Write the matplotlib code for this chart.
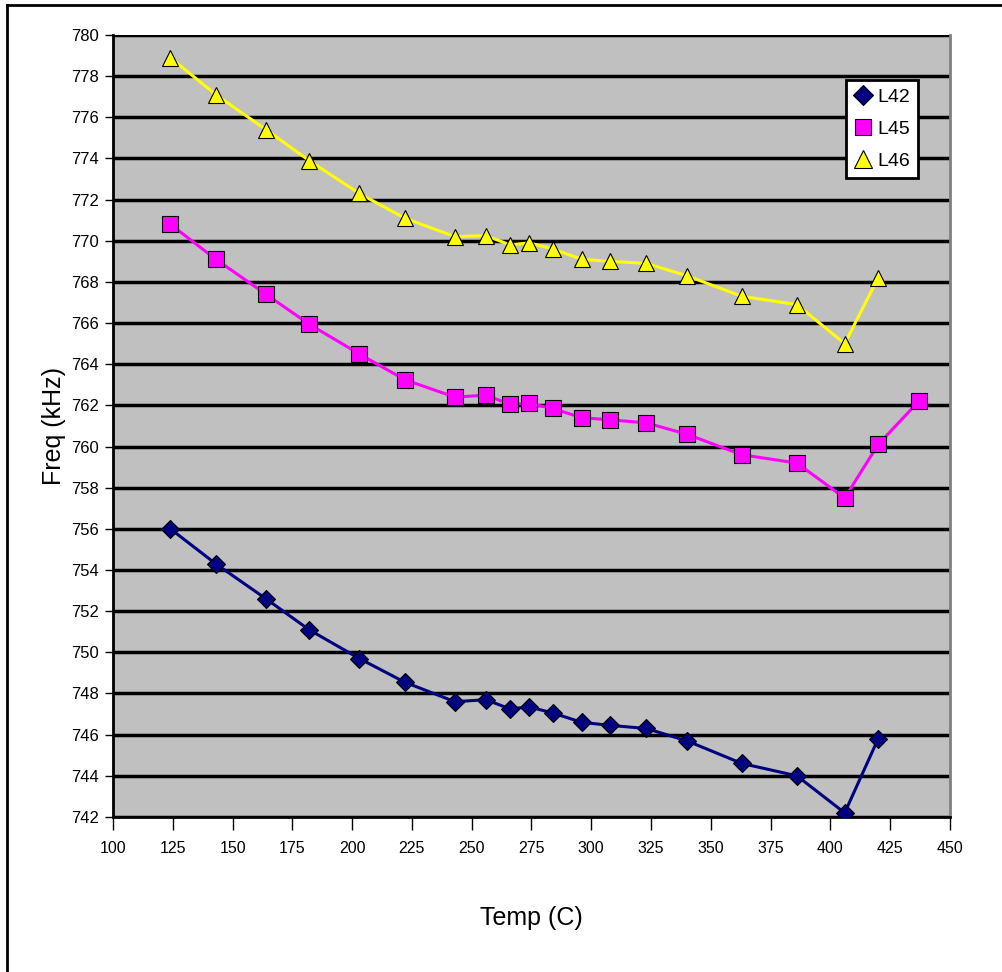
import matplotlib
matplotlib.use('Agg')
import matplotlib.pyplot as plt
from matplotlib.lines import Line2D
from matplotlib import font_manager

names = {f.name for f in font_manager.fontManager.ttflist}
narrow = 'Liberation Sans Narrow' if 'Liberation Sans Narrow' in names else 'Liberation Sans'
plt.rcParams['font.family'] = [narrow, 'DejaVu Sans']

temp = [124, 143, 164, 182, 203, 222, 243, 256, 266, 274, 284, 296, 308, 323, 340, 363, 386, 406, 420]
temp_l45 = temp + [437]

l42 = [756.0, 754.3, 752.6, 751.1, 749.7, 748.55, 747.6, 747.7, 747.25, 747.35,
       747.05, 746.6, 746.45, 746.3, 745.7, 744.6, 744.0, 742.2, 745.8]
l45 = [770.8, 769.1, 767.4, 765.95, 764.5, 763.25, 762.4, 762.5, 762.05, 762.1,
       761.85, 761.4, 761.3, 761.15, 760.6, 759.6, 759.2, 757.5, 760.1, 762.2]
l46 = [778.9, 777.1, 775.4, 773.9, 772.3, 771.1, 770.2, 770.25, 769.8, 769.9,
       769.6, 769.1, 769.0, 768.9, 768.3, 767.3, 766.9, 765.0, 768.2]

x_ticks = list(range(100, 451, 25))
y_ticks = list(range(742, 781, 2))

fig = plt.figure(figsize=(10.02, 9.72), dpi=100)
# chart border: only left and top edges are visible in the source
fig.lines.append(Line2D([0.0065, 0.0065], [0.0, 0.9945], transform=fig.transFigure,
                        color='black', linewidth=2))
fig.lines.append(Line2D([0.0065, 1.0], [0.9945, 0.9945], transform=fig.transFigure,
                        color='black', linewidth=2))

ax = fig.add_axes([0.1128, 0.1595, 0.8352, 0.8045])
ax.set_facecolor('#C0C0C0')

ax.plot(temp, l42, color='#000080', linewidth=2.2, marker='D', markersize=9,
        markerfacecolor='#000080', markeredgecolor='black', markeredgewidth=0.8, label='L42', zorder=3)
ax.plot(temp_l45, l45, color='#FF00FF', linewidth=2.2, marker='s', markersize=11,
        markerfacecolor='#FF00FF', markeredgecolor='black', markeredgewidth=0.8, label='L45', zorder=3)
ax.plot(temp, l46, color='#FFFF00', linewidth=2.2, marker='^', markersize=12,
        markerfacecolor='#FFFF00', markeredgecolor='black', markeredgewidth=0.8, label='L46', zorder=3)

ax.set_xlim(100, 450)
ax.set_ylim(742, 780)
ax.set_xticks(x_ticks)
ax.set_yticks(y_ticks)
ax.yaxis.grid(True, color='black', linewidth=2.5)
ax.set_axisbelow(True)
ax.tick_params(axis='x', direction='out', length=9, width=1, labelsize=11.5, pad=8)
ax.tick_params(axis='y', direction='out', length=6, width=1, labelsize=12, pad=4)

for s in ['left', 'bottom']:
    ax.spines[s].set_linewidth(2)
    ax.spines[s].set_color('black')
ax.spines['top'].set_visible(False)
ax.spines['right'].set_color('#808080')
ax.spines['right'].set_linewidth(2)

ax.set_xlabel('Temp (C)', fontsize=18, labelpad=36)
ax.set_ylabel('Freq (kHz)', fontsize=18, labelpad=4)

leg = ax.legend(loc='upper right', bbox_to_anchor=(0.962, 0.942), fontsize=14,
                frameon=True, fancybox=False, handlelength=0.9, handletextpad=0.3,
                borderpad=0.4, labelspacing=0.75, borderaxespad=0, markerscale=1.1)
leg.get_frame().set_edgecolor('black')
leg.get_frame().set_linewidth(2)
leg.get_frame().set_facecolor('white')
leg.get_frame().set_alpha(1)
for h in leg.get_lines():
    h.set_linestyle('none')

fig.savefig('out.png', dpi=100)
